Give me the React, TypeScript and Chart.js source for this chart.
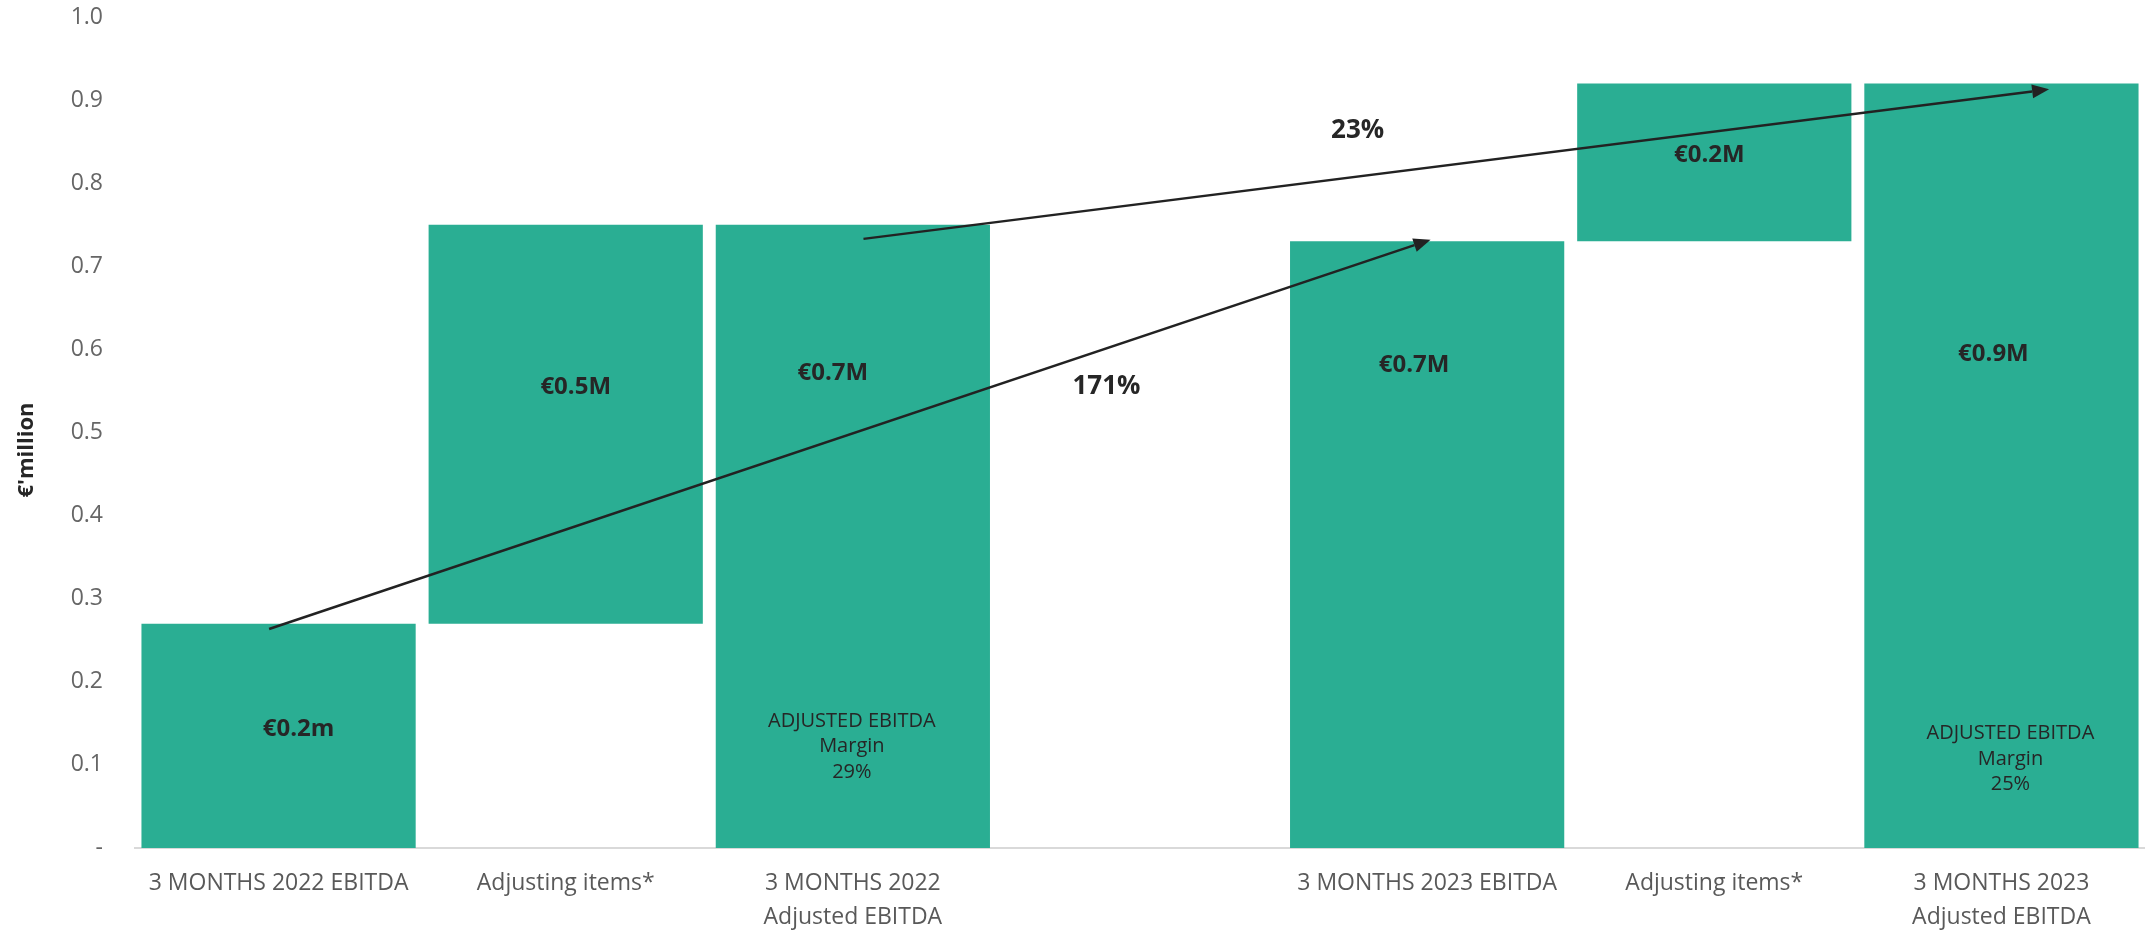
import { useEffect, useRef } from "react";
import { Chart, registerables } from "chart.js";

Chart.register(...registerables);

// ---- data ----
const categories: (string | string[])[] = [
  "3 MONTHS 2022 EBITDA",
  "Adjusting items*",
  ["3 MONTHS 2022", "Adjusted EBITDA"],
  "",
  "3 MONTHS 2023 EBITDA",
  "Adjusting items*",
  ["3 MONTHS 2023", "Adjusted EBITDA"],
];
const barStarts: (number | null)[] = [0, 0.27, 0, null, 0, 0.73, 0];
const barEnds: (number | null)[] = [0.27, 0.75, 0.75, null, 0.73, 0.92, 0.92];
const valueLabels = ["€0.2m", "€0.5M", "€0.7M", "", "€0.7M", "€0.2M", "€0.9M"];
const marginLabels = ["", "", "29%", "", "", "", "25%"];
const marginTitle = ["ADJUSTED EBITDA", "Margin"];
const growthLabels = ["171%", "23%"];
const yAxisTitle = "€'million";

// ---- annotation placement (layout, not data) ----
const annotations = {
  valueY: [0.143, 0.554, 0.572, null, 0.581, 0.834, 0.594],
  valueDx: [20, 10, -20, 0, -13, -5, -8],
  marginY: [null, null, 0.153, null, null, null, 0.138],
  marginDx: [0, 0, -1, 0, 0, 0, 9],
  arrows: [
    { from: [-0.033, 0.2635], to: [4.012, 0.732] },
    { from: [2.037, 0.733], to: [6.166, 0.913] },
  ],
  growthPos: [
    [2.883, 0.555],
    [3.758, 0.863],
  ],
};

const TEXT_DARK = "#262626";
const BAR_COLOR = "#2aae93";
const FONT = "'Open Sans', sans-serif";

const overlayPlugin = {
  id: "overlay",
  afterDatasetsDraw(chart: any) {
    const ctx = chart.ctx as CanvasRenderingContext2D;
    const xs = chart.scales.x;
    const ys = chart.scales.y;
    const px = (i: number) => {
      const a = xs.getPixelForValue(0);
      const b = xs.getPixelForValue(1);
      return a + (b - a) * i;
    };
    ctx.save();
    ctx.textAlign = "center";
    ctx.textBaseline = "middle";

    // value labels
    ctx.fillStyle = TEXT_DARK;
    ctx.font = `bold 24px ${FONT}`;
    valueLabels.forEach((t, i) => {
      const v = annotations.valueY[i];
      if (!t || v == null) return;
      ctx.fillText(t, px(i) + annotations.valueDx[i], ys.getPixelForValue(v));
    });

    // margin labels
    ctx.font = `20px ${FONT}`;
    marginLabels.forEach((t, i) => {
      const v = annotations.marginY[i];
      if (!t || v == null) return;
      const x = px(i) + annotations.marginDx[i];
      const y0 = ys.getPixelForValue(v);
      const lines = [...marginTitle, t];
      lines.forEach((ln, k) => ctx.fillText(ln, x, y0 + k * 25.5));
    });

    // arrows
    ctx.strokeStyle = "#222222";
    ctx.fillStyle = "#222222";
    ctx.lineWidth = 2.5;
    annotations.arrows.forEach((a) => {
      const x1 = px(a.from[0]);
      const y1 = ys.getPixelForValue(a.from[1]);
      const x2 = px(a.to[0]);
      const y2 = ys.getPixelForValue(a.to[1]);
      const ang = Math.atan2(y2 - y1, x2 - x1);
      const len = 17;
      const hw = 7;
      const bx = x2 - len * Math.cos(ang);
      const by = y2 - len * Math.sin(ang);
      ctx.beginPath();
      ctx.moveTo(x1, y1);
      ctx.lineTo(bx, by);
      ctx.stroke();
      ctx.beginPath();
      ctx.moveTo(x2, y2);
      ctx.lineTo(bx + hw * Math.sin(ang), by - hw * Math.cos(ang));
      ctx.lineTo(bx - hw * Math.sin(ang), by + hw * Math.cos(ang));
      ctx.closePath();
      ctx.fill();
    });

    // growth labels
    ctx.fillStyle = TEXT_DARK;
    ctx.font = `bold 26px ${FONT}`;
    growthLabels.forEach((t, i) => {
      const p = annotations.growthPos[i];
      ctx.fillText(t, px(p[0]), ys.getPixelForValue(p[1]));
    });

    // y-axis title
    ctx.save();
    ctx.translate(27, 450);
    ctx.rotate(-Math.PI / 2);
    ctx.font = `bold 22px ${FONT}`;
    ctx.fillStyle = TEXT_DARK;
    ctx.fillText(yAxisTitle, 0, 0);
    ctx.restore();

    ctx.restore();
  },
};

export default function App() {
  const ref = useRef<HTMLCanvasElement | null>(null);
  useEffect(() => {
    document.body.style.margin = "0";
    if (!ref.current) return;
    const data = barStarts.map((s, i) =>
      s == null || barEnds[i] == null ? null : [s, barEnds[i] as number]
    );
    const chart = new Chart(ref.current, {
      type: "bar",
      data: {
        labels: categories,
        datasets: [
          {
            data: data as any,
            backgroundColor: BAR_COLOR,
            borderWidth: 0,
            barPercentage: 0.955,
            categoryPercentage: 1,
          },
        ],
      },
      options: {
        responsive: false,
        animation: false,
        devicePixelRatio: 1,
        layout: { padding: { top: 17, left: 0, right: 0, bottom: 0 } },
        plugins: {
          legend: { display: false },
          tooltip: { enabled: false },
        },
        scales: {
          x: {
            grid: { display: false, drawTicks: false },
            border: { display: true, color: "#d9d9d9", width: 2 },
            ticks: {
              color: "#595959",
              font: { family: FONT, size: 23, lineHeight: 1.45 },
              padding: 19,
              autoSkip: false,
              maxRotation: 0,
              minRotation: 0,
            },
            afterFit: (s: any) => {
              s.height = 83;
              s.paddingLeft = 0;
              s.paddingRight = 0;
            },
          },
          y: {
            min: 0,
            max: 1,
            grid: { display: false, drawTicks: false },
            border: { display: false },
            ticks: {
              stepSize: 0.1,
              color: "#666666",
              padding: 32,
              font: { family: FONT, size: 23 },
              callback: (v: any) => (Number(v) === 0 ? "-" : Number(v).toFixed(1)),
            },
            afterFit: (s: any) => {
              s.width = 135;
              s.paddingTop = 0;
              s.paddingBottom = 0;
            },
          },
        },
      },
      plugins: [overlayPlugin],
    });
    return () => chart.destroy();
  }, []);
  return (
    <div style={{ width: 2145, height: 931 }}>
      <canvas ref={ref} width={2145} height={931} style={{ display: "block" }} />
    </div>
  );
}
